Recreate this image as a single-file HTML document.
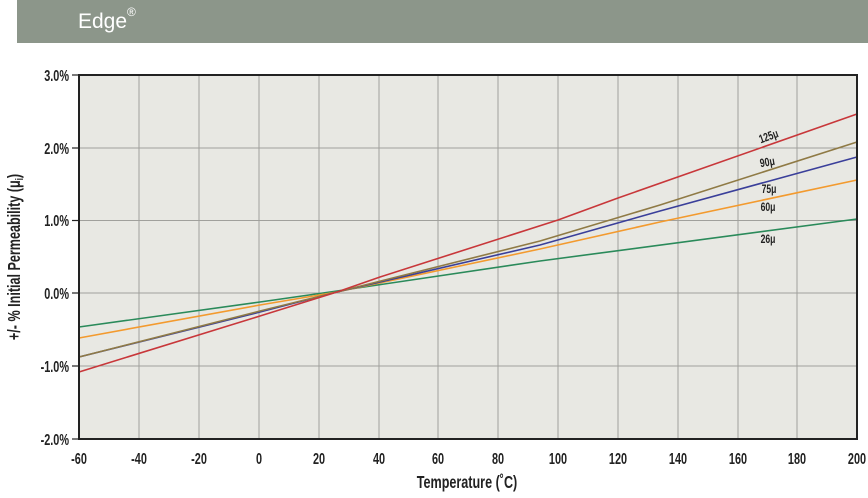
<!DOCTYPE html>
<html><head><meta charset="utf-8"><style>
body{margin:0;width:868px;height:498px;background:#fff;overflow:hidden;position:relative;font-family:"Liberation Sans",sans-serif}
.hdr{position:absolute;left:17px;top:0;width:851px;height:43px;background:#8c968a}
.hdr span{position:absolute;left:61px;top:9px;color:#fff;font-family:"Liberation Sans",sans-serif;font-size:21px}
.hdr sup{font-size:12px;position:relative;top:-4px}
</style></head><body>
<div class="hdr"><span>Edge<sup>®</sup></span></div>
<svg width="868" height="498" style="position:absolute;left:0;top:0" font-family="Liberation Sans, sans-serif" font-weight="bold">
<rect x="79" y="75" width="778" height="364" fill="#e8e8e3"/>
<g stroke="#a0a09c" stroke-width="1">
<line x1="79" x2="857" y1="148" y2="148"/><line x1="79" x2="857" y1="220.5" y2="220.5"/>
<line x1="79" x2="857" y1="293" y2="293"/><line x1="79" x2="857" y1="366" y2="366"/>
<line x1="139" x2="139" y1="75" y2="439"/><line x1="199" x2="199" y1="75" y2="439"/>
<line x1="259" x2="259" y1="75" y2="439"/><line x1="319" x2="319" y1="75" y2="439"/>
<line x1="379" x2="379" y1="75" y2="439"/><line x1="438" x2="438" y1="75" y2="439"/>
<line x1="498" x2="498" y1="75" y2="439"/><line x1="558" x2="558" y1="75" y2="439"/>
<line x1="618" x2="618" y1="75" y2="439"/><line x1="678" x2="678" y1="75" y2="439"/>
<line x1="738" x2="738" y1="75" y2="439"/><line x1="797" x2="797" y1="75" y2="439"/>
</g>
<g stroke-width="1.6" fill="none" stroke-linejoin="round">
<polyline points="79,327 260,302 337,291 540,261 857,219" stroke="#2a8a5a"/>
<polyline points="79,338 260,305 337,292 540,249 660,222 857,180" stroke="#f39a2e"/>
<polyline points="79,357 260,312 337,292 540,245 660,211 857,157" stroke="#3a3f9a"/>
<polyline points="79,357 260,311 337,292 540,241 660,205 857,142" stroke="#8f7a45"/>
<polyline points="79,372 260,316 337,292 380,277 558,220 618,198 857,114" stroke="#c8373a"/>
</g>
<rect x="79" y="75" width="778" height="364" fill="none" stroke="#222" stroke-width="2"/>
<g stroke="#222" stroke-width="1.2">
<line x1="72" x2="79" y1="75" y2="75"/><line x1="72" x2="79" y1="148" y2="148"/><line x1="72" x2="79" y1="220.5" y2="220.5"/>
<line x1="72" x2="79" y1="293" y2="293"/><line x1="72" x2="79" y1="366" y2="366"/><line x1="72" x2="79" y1="439" y2="439"/>
</g>
<g font-size="16" fill="#222" text-anchor="end">
<text transform="translate(69,81) scale(0.68,1)">3.0%</text>
<text transform="translate(69,154) scale(0.68,1)">2.0%</text>
<text transform="translate(69,226) scale(0.68,1)">1.0%</text>
<text transform="translate(69,299) scale(0.68,1)">0.0%</text>
<text transform="translate(69,372) scale(0.68,1)">-1.0%</text>
<text transform="translate(69,445) scale(0.68,1)">-2.0%</text>
</g>
<g font-size="16" fill="#222" text-anchor="middle">
<text transform="translate(79,464) scale(0.68,1)">-60</text>
<text transform="translate(139,464) scale(0.68,1)">-40</text>
<text transform="translate(199,464) scale(0.68,1)">-20</text>
<text transform="translate(259,464) scale(0.68,1)">0</text>
<text transform="translate(319,464) scale(0.68,1)">20</text>
<text transform="translate(379,464) scale(0.68,1)">40</text>
<text transform="translate(438,464) scale(0.68,1)">60</text>
<text transform="translate(498,464) scale(0.68,1)">80</text>
<text transform="translate(558,464) scale(0.68,1)">100</text>
<text transform="translate(618,464) scale(0.68,1)">120</text>
<text transform="translate(678,464) scale(0.68,1)">140</text>
<text transform="translate(738,464) scale(0.68,1)">160</text>
<text transform="translate(797,464) scale(0.68,1)">180</text>
<text transform="translate(857,464) scale(0.68,1)">200</text>
<text transform="translate(467,488) scale(0.7,1)" font-size="18">Temperature (˚C)</text>
<text transform="translate(20,257) rotate(-90) scale(0.7,1)" font-size="18">+/- % Initial Permeability (μ<tspan font-size="11" dy="3">i</tspan><tspan dy="-3">)</tspan></text>
</g>
<g font-size="12" fill="#222" text-anchor="middle">
<text transform="translate(770,140) rotate(-20) scale(0.72,1)">125μ</text>
<text transform="translate(768,166) rotate(-10) scale(0.72,1)">90μ</text>
<text transform="translate(769,193) scale(0.72,1)">75μ</text>
<text transform="translate(768,211) scale(0.72,1)">60μ</text>
<text transform="translate(768,243) scale(0.72,1)">26μ</text>
</g>
</svg>
</body></html>
